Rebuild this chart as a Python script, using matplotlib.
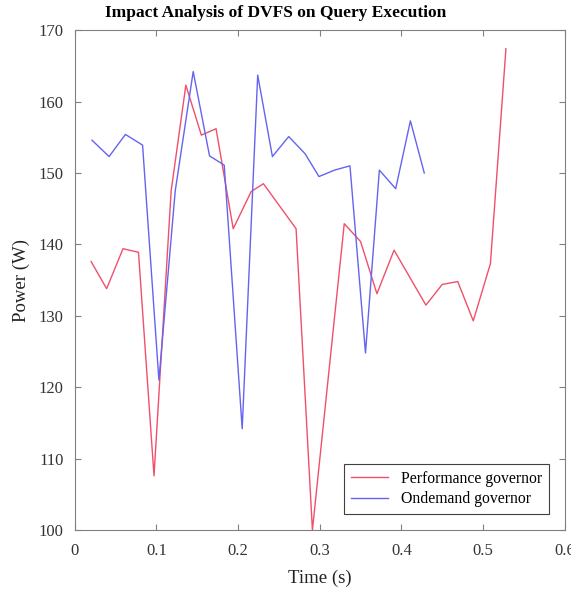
import numpy as np
import matplotlib.pyplot as plt

plt.rcParams['font.family'] = ['Liberation Serif', 'DejaVu Serif']

# Performance governor
perf_t = [0.020, 0.039, 0.059, 0.078, 0.097, 0.118, 0.136, 0.155, 0.173, 0.194,
          0.216, 0.231, 0.271, 0.291, 0.330, 0.350, 0.370, 0.391, 0.430, 0.450,
          0.469, 0.488, 0.509, 0.528]
perf_p = [137.6, 133.8, 139.4, 138.9, 107.6, 147.5, 162.3, 155.3, 156.2, 142.2,
          147.4, 148.5, 142.2, 100.0, 142.9, 140.4, 133.1, 139.2, 131.5, 134.4,
          134.8, 129.3, 137.3, 167.4]

# Ondemand governor
ond_t = [0.021, 0.042, 0.062, 0.083, 0.103, 0.123, 0.145, 0.165, 0.183, 0.205,
         0.224, 0.242, 0.262, 0.282, 0.299, 0.318, 0.337, 0.356, 0.373, 0.393,
         0.411, 0.428]
ond_p = [154.6, 152.3, 155.4, 153.9, 121.0, 147.5, 164.2, 152.4, 151.1, 114.2,
         163.7, 152.3, 155.1, 152.7, 149.5, 150.4, 151.0, 124.8, 150.4, 147.8,
         157.3, 150.0]

fig = plt.figure(figsize=(5.71, 5.91), dpi=100)
ax = fig.add_axes([0.131, 0.103, 0.858, 0.846])

ax.plot(perf_t, perf_p, color='#f0506a', lw=1.0, label='Performance governor')
ax.plot(ond_t, ond_p, color='#6464f0', lw=1.0, label='Ondemand governor')

ax.set_xlim(0, 0.6)
ax.set_ylim(100, 170)
ax.set_xticks(np.arange(0, 0.61, 0.1))
ax.set_xticklabels(['0', '0.1', '0.2', '0.3', '0.4', '0.5', '0.6'])
ax.set_yticks(np.arange(100, 171, 10))

for s in ax.spines.values():
    s.set_color('#808080')
    s.set_linewidth(0.8)
ax.tick_params(direction='in', top=True, right=True, colors='#808080',
               labelcolor='#333333', labelsize=12, length=4)
ax.tick_params(axis='y', pad=8)
ax.tick_params(axis='x', pad=9)

# title is centred on the figure, not on the axes
fig.text(0.483, 1 - 13 / 591, 'Impact Analysis of DVFS on Query Execution',
         fontsize=12.5, fontweight='bold', ha='center', va='center')
ax.set_xlabel('Time (s)', fontsize=13.5, color='#222222', labelpad=8)
ax.set_ylabel('Power (W)', fontsize=13.5, color='#222222', labelpad=6)

leg = ax.legend(loc='lower right', fontsize=11.3, fancybox=False,
                edgecolor='#404040', framealpha=1, borderaxespad=1.0,
                handlelength=2.4, borderpad=0.45, labelspacing=0.3)
leg.get_frame().set_linewidth(0.8)

fig.savefig('out.png', dpi=100)
